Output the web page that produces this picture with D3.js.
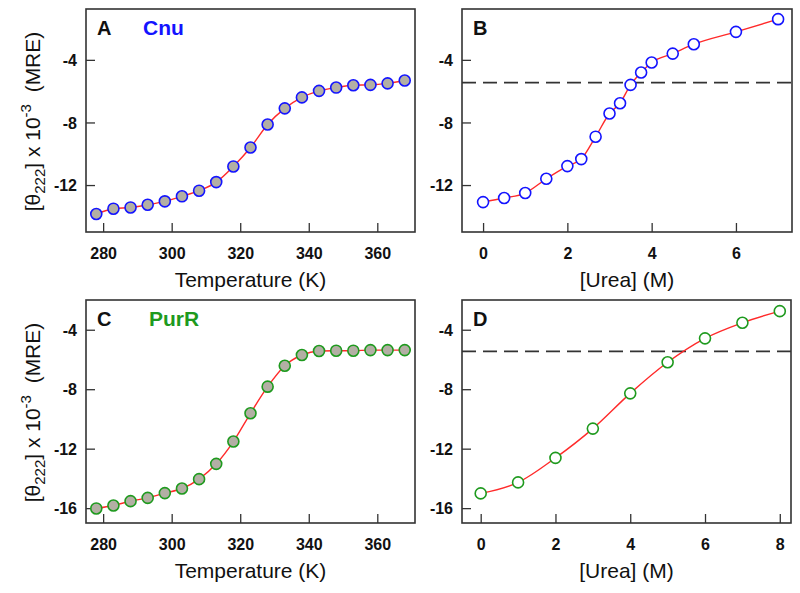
<!DOCTYPE html>
<html>
<head>
<meta charset="utf-8">
<script src="https://cdn.jsdelivr.net/npm/d3@7"></script>
<style>
  html, body { margin: 0; padding: 0; background: #fff; }
  svg { display: block; font-family: "Liberation Sans", Arial, sans-serif; }
</style>
</head>
<body>
<svg id="chart" width="800" height="593"></svg>
<script>
// ---------- data ----------
const tempK = [278, 283, 288, 293, 298, 303, 308, 313, 318, 323, 328, 333, 338, 343, 348, 353, 358, 363, 368];
const cnuThermal = [-13.85, -13.51, -13.43, -13.26, -13.04, -12.72, -12.36, -11.81, -10.81, -9.6, -8.13, -7.1, -6.4, -5.98, -5.77, -5.62, -5.6, -5.5, -5.32];
const purrThermal = [-16.02, -15.82, -15.53, -15.31, -14.99, -14.68, -14.05, -13.02, -11.52, -9.62, -7.83, -6.42, -5.70, -5.43, -5.41, -5.41, -5.37, -5.37, -5.37];
const ureaCnu = [0, 0.5, 1, 1.5, 2, 2.33, 2.67, 3, 3.25, 3.5, 3.75, 4, 4.5, 5, 6, 7];
const cnuUrea = [-13.09, -12.83, -12.51, -11.6, -10.79, -10.34, -8.91, -7.43, -6.77, -5.6, -4.81, -4.17, -3.6, -3.0, -2.21, -1.4];
const ureaPurR = [0, 1, 2, 3, 4, 5, 6, 7, 8];
const purrUrea = [-15.01, -14.27, -12.62, -10.65, -8.28, -6.19, -4.58, -3.53, -2.75];
const midlineValue = -5.45;

const xTicksTemp = [280, 300, 320, 340, 360];
const xTicksUreaCnu = [0, 2, 4, 6];
const xTicksUreaPurR = [0, 2, 4, 6, 8];
const yTicksCnu = [-12, -8, -4];
const yTicksPurR = [-16, -12, -8, -4];

const panelLetters = ["A", "B", "C", "D"];
const proteinNames = ["Cnu", "PurR"];
const xTitles = ["Temperature (K)", "[Urea] (M)"];

// ---------- styles ----------
const BLUE = "#1414ff";
const GREEN = "#1e9a1e";
const GRAY = "#b3afa4";
const RED = "#ff2a2a";
const FRAME = "#333333";

const svg = d3.select("#chart");

function panel(cfg) {
  const g = svg.append("g");
  const x = d3.scaleLinear().domain(cfg.xDomain).range([cfg.left, cfg.right]);
  const y = d3.scaleLinear().domain(cfg.yDomain).range([cfg.bottom, cfg.top]);

  g.append("rect")
    .attr("x", cfg.left).attr("y", cfg.top)
    .attr("width", cfg.right - cfg.left).attr("height", cfg.bottom - cfg.top)
    .attr("fill", "none").attr("stroke", FRAME).attr("stroke-width", 1.6);

  const xa = g.append("g").attr("transform", `translate(0,${cfg.bottom})`)
    .call(d3.axisBottom(x).tickValues(cfg.xTicks).tickSize(-9).tickPadding(0).tickFormat(d3.format("d")));
  xa.select(".domain").remove();
  xa.selectAll(".tick line").attr("stroke", FRAME).attr("stroke-width", 1.3);
  xa.selectAll(".tick text")
    .attr("y", 27).attr("dy", 0)
    .attr("font-size", 16).attr("font-weight", "bold").attr("fill", "#111")
    .attr("font-family", "Liberation Sans, Arial, sans-serif");

  const ya = g.append("g").attr("transform", `translate(${cfg.left},0)`)
    .call(d3.axisLeft(y).tickValues(cfg.yTicks).tickSize(-9).tickPadding(0).tickFormat(d3.format("d")));
  ya.select(".domain").remove();
  ya.selectAll(".tick line").attr("stroke", FRAME).attr("stroke-width", 1.3);
  ya.selectAll(".tick text")
    .attr("x", -9).attr("dy", "0.36em")
    .attr("font-size", 16).attr("font-weight", "bold").attr("fill", "#111")
    .attr("font-family", "Liberation Sans, Arial, sans-serif")
    .text(d => d3.format("d")(d).replace("−", "-"));

  if (cfg.midline !== undefined) {
    g.append("line")
      .attr("x1", cfg.left).attr("x2", cfg.right)
      .attr("y1", y(cfg.midline)).attr("y2", y(cfg.midline))
      .attr("stroke", "#333").attr("stroke-width", 1.8)
      .attr("stroke-dasharray", "14,7");
  }

  const pts = cfg.xs.map((v, i) => [v, cfg.ys[i]]);
  g.append("path")
    .datum(pts)
    .attr("d", d3.line().x(d => x(d[0])).y(d => y(d[1])).curve(d3.curveMonotoneX))
    .attr("fill", "none").attr("stroke", RED).attr("stroke-width", 1.4);

  g.selectAll("circle.pt").data(pts).join("circle")
    .attr("class", "pt")
    .attr("cx", d => x(d[0])).attr("cy", d => y(d[1]))
    .attr("r", 5.5)
    .attr("fill", cfg.fill).attr("stroke", cfg.color).attr("stroke-width", 1.6);

  g.append("text")
    .attr("x", cfg.left + 11).attr("y", cfg.top + 26)
    .attr("font-size", 20).attr("font-weight", "bold").attr("fill", "#111")
    .text(cfg.letter);
  if (cfg.name) {
    g.append("text")
      .attr("x", cfg.left + cfg.nameOffset).attr("y", cfg.top + 26)
      .attr("font-size", 21).attr("font-weight", "bold").attr("fill", cfg.color)
      .text(cfg.name);
  }

  g.append("text")
    .attr("x", (cfg.left + cfg.right) / 2).attr("y", cfg.bottom + 55)
    .attr("text-anchor", "middle").attr("font-size", 21).attr("fill", "#111")
    .text(cfg.xTitle);

  if (cfg.yTitle) {
    const t = g.append("text")
      .attr("transform", `translate(40,${(cfg.top + cfg.bottom) / 2 + 1}) rotate(-90)`)
      .attr("text-anchor", "middle").attr("font-size", 21).attr("fill", "#111");
    t.append("tspan").text("[θ");
    t.append("tspan").attr("font-size", 15).attr("dy", 5).text("222");
    t.append("tspan").attr("dy", -5).text("] x 10");
    t.append("tspan").attr("font-size", 15).attr("dy", -9).text("-3");
    t.append("tspan").attr("dy", 9).text("\u00a0 (MRE)");
  }
}

const rowTop = [9, 300], rowBottom = [232, 523];
const colLeft = [86, 462], colRight = [415, 791];

panel({ left: colLeft[0], right: colRight[0], top: rowTop[0], bottom: rowBottom[0],
  xDomain: [275, 371], yDomain: [-15, -0.75], xTicks: xTicksTemp, yTicks: yTicksCnu,
  xs: tempK, ys: cnuThermal, color: BLUE, fill: GRAY,
  letter: panelLetters[0], name: proteinNames[0], nameOffset: 57, xTitle: xTitles[0], yTitle: true });

panel({ left: colLeft[1], right: colRight[1] + 1, top: rowTop[0], bottom: rowBottom[0],
  xDomain: [-0.5, 7.33], yDomain: [-15, -0.75], xTicks: xTicksUreaCnu, yTicks: yTicksCnu,
  xs: ureaCnu, ys: cnuUrea, color: BLUE, fill: "#fff", midline: midlineValue,
  letter: panelLetters[1], xTitle: xTitles[1] });

panel({ left: colLeft[0], right: colRight[0], top: rowTop[1], bottom: rowBottom[1],
  xDomain: [275, 371], yDomain: [-17, -2], xTicks: xTicksTemp, yTicks: yTicksPurR,
  xs: tempK, ys: purrThermal, color: GREEN, fill: GRAY,
  letter: panelLetters[2], name: proteinNames[1], nameOffset: 63, xTitle: xTitles[0], yTitle: true });

panel({ left: colLeft[1], right: colRight[1], top: rowTop[1], bottom: rowBottom[1],
  xDomain: [-0.5, 8.3], yDomain: [-17, -2], xTicks: xTicksUreaPurR, yTicks: yTicksPurR,
  xs: ureaPurR, ys: purrUrea, color: GREEN, fill: "#fff", midline: midlineValue,
  letter: panelLetters[3], xTitle: xTitles[1] });
</script>
</body>
</html>
